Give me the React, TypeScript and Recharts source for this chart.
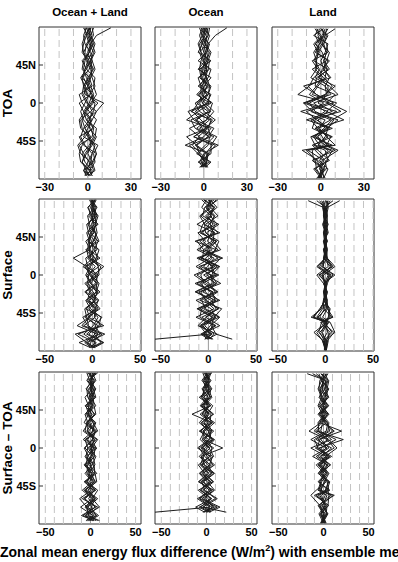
import React from 'react';
import { LineChart, Line, XAxis, YAxis, ReferenceLine, ReferenceArea } from 'recharts';

// latitude grids (deg, north positive)
const LAT_ALL = [89, 80, 70, 60, 50, 40, 30, 20, 10, 0, -10, -20, -30, -40, -50, -60, -70, -80, -86];
const LAT_OCEAN = [89, 80, 70, 60, 50, 40, 30, 20, 10, 0, -10, -20, -30, -40, -50, -60, -70, -76];
const LAT_LAND = [88, 80, 70, 60, 50, 40, 30, 20, 10, 0, -10, -20, -30, -40, -50, -56, -62, -68, -78, -89];

const COL_NAMES = ['Ocean + Land', 'Ocean', 'Land'];
const ROW_NAMES = ['TOA', 'Surface', 'Surface \u2013 TOA'];
const LAT_TICKS = [-45, 0, 45];
const TICKS_TOA = [-30, 0, 30];
const TICKS_SFC = [-50, 0, 50];
const GRID_TOA = [-30, -20, -10, 10, 20, 30];
const GRID_SFC = [-50, -40, -30, -20, -10, 10, 20, 30, 40, 50];

// ensemble members, flux difference from ensemble mean (W/m2)
const toaBoth = [
  [2, 1, 3, 1, -2, -3, -1, 2, 4, 3, -1, -4, -2, 1, 5, 3, 0, -3, -1],
  [-1, -3, -2, 2, 3, 1, -4, -3, 0, 5, 4, 1, -3, -5, -2, 3, 2, -1, 1],
  [3, 4, 0, -3, -1, 2, 3, 5, 1, -2, -5, -3, 2, 4, 1, -4, -2, 3, 2],
  [16, 6, 2, 0, 2, 3, 1, -3, -2, 11, 6, -1, 4, 3, -6, -3, 1, 2, -1],
  [0, 2, 4, 1, -3, -4, 1, 3, -6, -4, 1, 6, 3, -2, -7, -5, 2, 4, 2],
  [-2, -1, 1, 4, 2, -2, -3, 0, 3, 1, -3, -1, 6, 5, 2, -2, -4, -1, -2],
  [1, 3, -1, -2, 3, 5, 2, -2, -1, 7, 2, -5, -4, 0, 4, 6, 3, -2, 1],
  [4, 2, 5, 3, 0, -2, -4, 1, 2, -6, -3, 2, 1, 6, 3, -1, -4, 1, 3],
  [-3, 0, 2, 1, -4, -1, 5, 4, 6, 2, -2, 3, 0, -3, 7, 4, 5, 1, 3],
  [2, -2, -4, -3, 1, 4, 0, -3, -4, -1, 6, 3, -2, 2, -4, -6, -5, 2, -2],
  [-1, 1, 3, 5, 2, -1, -5, -2, 3, 4, -2, -6, -5, 1, 2, 0, 3, 5, 0],
  [1, -1, -3, -4, 0, 3, 2, 0, -3, 0, 3, 1, 4, -6, -3, 6, 4, -3, 1],
];

const toaOcean = [
  [16, 8, 3, 2, 0, 2, 1, -1, 2, -4, -8, -2, 3, 5, -10, -4, 1, 1],
  [1, 0, 3, 1, -2, -3, 2, 4, -3, -1, 5, -9, -6, 4, 3, -4, 2, -2],
  [-2, 2, 1, 3, 2, -1, -2, 5, 3, -6, -3, 6, 2, -7, 8, 3, -1, 0],
  [3, 1, -3, -2, 4, 3, 1, -3, 4, 3, -11, -7, 2, -12, -5, 3, 2, 2],
  [0, 4, 2, -3, -1, 4, -4, -2, -2, 6, 4, -6, 7, 3, -5, -3, 1, -1],
  [-1, -3, -1, 4, 2, -2, 2, -4, 5, 2, -6, 4, -3, 9, 5, 5, -4, 3],
  [2, 3, -2, 0, 3, 1, -1, 3, -4, 1, 7, 2, -10, -3, -8, -2, 4, -3],
  [0, -2, 4, 2, -4, 5, 3, -2, 2, -3, 0, 8, 1, -7, 6, 1, -2, 2],
  [4, 3, 0, 1, 1, -4, 5, 0, -1, 5, -4, -12, 5, 0, -13, 4, 0, -2],
  [-3, -1, -4, -2, 0, 2, -3, 4, 3, -1, 4, 2, -5, 7, 1, -5, 5, 1],
  [1, -1, 1, 5, 3, 0, 2, 1, -5, 4, -9, 5, 3, -4, 10, 0, -3, -1],
  [2, 0, -1, -4, 5, -3, -2, 2, 0, -5, 3, -5, -1, 3, -6, 2, 2, 0],
];

const toaLand = [
  [10, 3, 1, 4, 2, 3, -5, -8, -16, 6, 18, 8, 2, -4, 6, -10, null, -3, 1, 2],
  [-2, -4, -1, -3, 5, 2, 6, 3, 4, -8, -4, 9, 5, 3, -2, 8, null, 4, 2, 0],
  [3, 1, -5, -2, -3, -4, 2, 8, 3, -12, -6, 12, 4, -6, 8, -13, null, -2, 3, -1],
  [0, 5, 2, 4, 2, 6, -3, -4, 10, 4, 14, -7, -2, 5, -5, 3, null, 5, -4, 1],
  [-4, -1, 4, 5, -6, -2, 4, -9, -3, 9, -10, -3, 6, -3, 2, -6, null, -5, 2, -2],
  [5, 2, -1, -5, -3, -3, -7, 3, 7, -12, 5, -4, -6, 7, 4, 12, null, 1, -1, 3],
  [1, 2, -4, 1, 3, 4, 3, -2, -6, 11, 4, 16, -3, 1, 4, -4, null, 3, 4, -3],
  [-3, 0, 1, -4, 6, 1, -1, 5, 5, -2, 8, -10, 8, -7, -4, 7, null, -4, -3, 1],
  [2, -5, 5, 3, 0, 2, 7, -12, -3, 6, -14, 3, -1, 4, 10, -9, null, 2, 0, -1],
  [4, 3, -3, -1, -4, -1, -4, 6, 12, -5, 3, -6, 5, -5, -1, 5, null, -1, 5, 2],
  [-1, -2, 0, 6, 4, -6, 1, -3, -8, 2, -7, 7, -4, 8, -6, -2, null, 6, -5, 0],
  [0, 4, 2, -2, -5, 5, -2, 10, 3, -10, 11, -2, 3, -2, 3, 10, null, -6, 1, -2],
];

const sfcBoth = [
  [2, 0, 4, 3, 5, 1, -3, -20, -6, -3, 4, 5, 2, -6, -3, -16, 5, 2, 1],
  [-1, 4, 2, 5, -2, -4, -5, 3, 6, 7, -6, -3, -5, 4, -8, 6, 2, 9, -1],
  [3, -1, 1, -4, -2, 6, 2, 6, -8, -2, 5, -7, 6, 3, 3, -9, 13, -5, 2],
  [0, 2, -5, -3, 3, 4, -6, -4, 9, 5, -2, 6, 1, 8, -5, 4, -6, 11, 0],
  [-3, 1, 3, -1, 2, -7, -2, 2, -3, 4, -8, 1, 4, -7, 10, 3, 8, -14, -2],
  [1, -4, -2, 6, -5, 3, 5, -7, -5, -1, 7, 4, -6, 2, -4, 12, -18, -6, 3],
  [4, 0, 6, 3, 1, -5, 7, 4, -2, -7, -2, 8, -3, 5, -10, -5, 3, -8, -1],
  [-2, 3, -1, 2, -6, -3, -3, -2, 12, 1, -4, -2, 7, -4, 6, 1, -9, 4, 1],
  [2, -2, 2, -5, 4, 1, -4, 8, -6, 6, 3, -8, 1, 6, -3, -11, 10, -2, -3],
  [-1, 5, -4, 4, -1, -3, 4, -5, 3, -4, -5, 5, -7, -2, 9, 7, -4, 12, 2],
  [3, -5, 0, 1, 3, 7, -7, 1, -10, 3, 6, -3, 3, -8, -6, -4, 6, -6, 0],
  [0, 1, 5, -6, -4, -1, 1, -3, 7, -6, -1, 4, -4, 3, 2, 9, -15, 3, -2],
];

const sfcOcean = [
  [4, -3, 6, 2, 10, -12, -5, -6, 12, 3, 4, -14, 8, -5, 11, -8, 2, -56],
  [-5, 6, 2, 9, -11, -3, -9, 13, 4, 7, -12, 5, -9, 14, 6, 3, 8, 25],
  [8, 1, -9, -4, -3, 11, 7, 2, -13, 3, 9, -6, 12, -11, 4, -9, -2, 3],
  [-2, -7, 3, -12, 6, 5, 13, -10, 5, -15, -2, 10, -4, 6, -13, 7, -5, -2],
  [2, 9, -1, 5, -8, 8, -3, 10, -8, 11, -7, -3, 5, -9, 8, -4, 6, 1],
  [-7, 2, 10, -3, 7, -9, 2, -7, 9, -2, 13, -10, -2, 10, -3, 12, -7, 4],
  [6, -4, -6, 11, -2, 4, -12, 6, -1, -8, -5, 9, -13, 3, 7, -6, 3, -4],
  [0, 5, 2, -5, 12, -14, 8, -3, 3, 5, -9, 2, 10, -7, -9, 5, -3, 2],
  [3, -1, 7, 1, -6, 6, -5, 15, -10, 2, 6, -13, 3, 8, -2, -11, 9, -1],
  [-4, 7, -3, 7, 3, -1, 10, -12, 7, -12, 1, 7, -7, -3, 12, 2, -5, 5],
  [10, -2, 4, -6, -9, 9, -1, 4, -5, 9, -14, 4, 7, -12, 5, -7, 4, -3],
  [1, 3, -8, 2, 5, -6, 4, -8, 11, -5, 8, -8, -3, 11, -7, 8, -8, 0],
];

const sfcLand = [
  [-18, -2, 1, -1, 2, -1, 1, 0, -9, 3, -1, 1, -2, -4, -15, 2, null, -12, -2, 0],
  [15, 2, -1, 1, -2, 1, -1, 2, 6, -4, 1, -1, 1, 3, 4, -3, null, 9, 2, 1],
  [-4, 0, 2, -2, 1, 0, 2, -1, -4, 10, -2, 2, 0, -6, -12, 4, null, -6, -1, 0],
  [3, 1, -2, 2, -1, 2, -2, 1, 8, -7, 2, 0, -1, 2, 8, -5, null, 5, 1, -1],
  [-6, -1, 0, 1, 3, -2, 0, -2, -2, 5, 0, -2, 2, -3, -9, 1, null, -9, -3, 0],
  [2, 3, 1, -3, 0, 1, 1, 2, 10, -2, -1, 1, -2, 5, 3, -2, null, 3, 3, 1],
  [-2, -3, -1, 0, -2, -1, -1, -1, -6, 4, 1, -1, 1, -1, -6, 3, null, -3, 0, -1],
  [5, 1, 2, 2, 1, 0, 2, 1, 3, -9, -2, 2, 0, 4, 5, -1, null, 7, -2, 0],
  [0, -2, -2, -1, -1, 2, -2, 0, -8, 6, 2, -2, -1, -5, -13, 0, null, -4, 1, 1],
  [-9, 0, 1, 0, 2, -2, 1, -2, 5, -3, -1, 0, 2, 2, -3, 5, null, 10, -1, -1],
  [1, 2, -1, 3, -1, 1, 0, 1, -3, 8, 0, 1, -2, -2, 7, -4, null, -7, 2, 0],
  [8, -1, 0, -2, 0, -1, -1, -1, 7, -6, 1, -1, 1, 1, -8, 1, null, 2, -3, 1],
];

const netBoth = [
  [3, 1, 5, 2, 2, -6, -3, -3, 4, 1, 2, -4, -1, -3, 1, -12, -4, -2, 8],
  [-2, 4, 1, 2, -5, -2, -7, 5, 2, 6, -4, 3, 5, 7, -6, 5, 1, 6, -3],
  [6, 0, 2, -6, -2, -2, 3, 8, -6, -3, 5, -6, 2, -4, 8, 2, 10, -6, 2],
  [0, 3, -5, 3, 4, 6, -4, -6, 7, -3, -5, 1, -3, 4, -5, 8, -3, 9, -1],
  [-4, -1, 2, 0, 6, -4, 6, 2, -3, 7, 0, -2, 7, -6, 3, -7, 6, -10, 4],
  [2, 6, -1, 5, -3, 1, -2, -8, 5, -1, 6, 2, -6, 2, -9, 2, -11, 3, 0],
  [8, -3, 4, -2, 1, -5, 4, 3, -8, 4, -3, -5, 4, -1, 5, -6, 2, -5, 6],
  [-1, 2, 0, 4, -4, 5, -5, 6, 2, -6, 3, 5, -2, 6, -3, 6, -5, 7, -2],
  [4, 1, -4, -3, 3, -1, 2, -4, 8, 1, -6, 0, 3, -5, 6, -9, 8, -3, 10],
  [1, -4, 3, 6, -6, 2, -3, 7, -5, 5, 4, -3, -4, 3, -2, 4, -4, 4, -5],
  [-3, 5, -2, -1, 2, -3, 5, -2, 3, -7, -2, 4, 5, -7, 4, -2, 5, -8, 3],
  [5, -1, 6, 1, -1, 4, -1, 4, -4, 3, 1, -7, 1, 5, -7, 3, -6, 2, -4],
];

const netOcean = [
  [2, -3, 4, -8, 5, -16, 6, -4, 7, -5, 3, -6, 8, -4, 6, -10, 4, -57],
  [-3, 4, -2, 5, -6, 3, -5, 8, -3, 18, -6, 4, -7, 5, -3, 12, -4, 22],
  [4, 0, 6, -3, 2, -5, 9, -2, -7, 3, 8, -5, 2, -9, 8, -5, 15, 3],
  [0, 3, -5, 2, -4, 7, -3, 5, 4, -8, -2, 9, -4, 3, -7, 6, -12, -2],
  [-4, -1, 2, 6, -2, -3, 2, -6, 9, 1, -8, 2, 6, -6, 3, -8, 6, 1],
  [5, 2, -3, -4, 7, 1, -8, 3, -2, 6, 4, -9, -2, 8, -4, 4, -6, 4],
  [1, -5, 3, 1, -7, 5, 4, -7, 2, -4, 7, 3, -8, 1, 9, -3, 9, -4],
  [-2, 5, -1, -6, 3, -2, 1, 6, -5, 8, -4, -3, 5, -5, -2, 10, -8, 2],
  [3, -2, 5, 3, -3, 8, -6, 2, 6, -6, 1, 7, -3, 7, -9, 2, 3, -1],
  [-1, 1, -4, -2, 4, -7, 5, -3, -4, 4, -6, -2, 9, -3, 5, -7, 12, 0],
  [6, -4, 0, 4, -5, 2, -2, 4, 3, -10, 5, 5, -5, 4, -6, 5, -3, 5],
  [0, 2, 2, -5, 1, -1, 7, -8, 8, -2, -3, -7, 3, -8, 4, -1, 7, -3],
];

const netLand = [
  [-18, 3, -2, 5, -3, 2, -4, 20, -6, 4, -12, 5, -2, 3, -8, -14, null, -4, 2, -2],
  [4, -3, 5, -2, 6, -4, 3, -8, 22, -5, 6, -3, 4, -5, 5, 6, null, 5, -3, 1],
  [-8, 1, -4, 3, -1, 5, -3, -16, 4, 12, -4, 8, -5, 2, -3, 10, null, -2, 4, -1],
  [2, 5, 2, -5, 3, -2, 6, 5, -10, -6, 9, -6, 3, -6, 7, -6, null, 3, -2, 3],
  [-5, -2, 6, 1, -5, 4, -1, -3, 9, -14, 3, -2, 6, 1, -4, 8, null, -5, 1, -3],
  [5, 0, -3, -4, 2, -6, 2, 10, -3, 6, -8, 4, -3, 5, 3, -10, null, 6, -4, 2],
  [-3, 4, 1, 6, -4, 1, -6, -5, 14, -3, 5, -8, 1, -3, -6, 4, null, -1, 5, -1],
  [0, -4, -5, -1, 5, -3, 4, 7, -8, 9, -2, 2, -6, 6, 2, -4, null, 2, -5, 0],
  [-12, 2, 3, 2, -2, 6, -2, -10, 5, -9, 7, -4, 5, -2, -5, 12, null, -6, 0, 2],
  [3, -1, -1, -3, 4, -5, 5, 3, -14, 3, -6, 7, -1, 4, 6, -8, null, 4, 3, -2],
  [-2, 6, 4, 4, 0, 3, -5, -6, 6, 15, 2, -5, 3, -4, -2, 2, null, -3, -2, 1],
  [1, -2, -6, -2, -6, -1, 1, 12, -4, -7, 4, 1, -4, 7, 4, -2, null, 1, 4, -3],
];

const COL_LEFT = [39, 155, 272];
const ROW_TOP = [27, 199, 372];
const PANEL_W = 102;
const PANEL_H = 152;
const Y_AXIS_W = 39;
const SIDE_PAD = 12;
const TICK_PX = 4;

const ROWS = [
  { domain: [-34, 37], ticks: TICKS_TOA, grid: GRID_TOA, sets: [toaBoth, toaOcean, toaLand] },
  { domain: [-56, 51], ticks: TICKS_SFC, grid: GRID_SFC, sets: [sfcBoth, sfcOcean, sfcLand] },
  { domain: [-57, 56], ticks: TICKS_SFC, grid: GRID_SFC, sets: [netBoth, netOcean, netLand] },
];
const LAT_SETS = [LAT_ALL, LAT_OCEAN, LAT_LAND];

const tickStyle = { fontSize: 11, fontWeight: 700, fill: '#000' };
const fmtX = (v: number) => (v < 0 ? `\u2212${-v}` : `${v}`);
const fmtLat = (v: number) => (v === 0 ? '0' : v > 0 ? `${v}N` : `${-v}S`);

interface PanelProps {
  left: number;
  top: number;
  lats: number[];
  members: (number | null)[][];
  domain: number[];
  ticks: number[];
  grid: number[];
  showY: boolean;
}

function Panel({ left, top, lats, members, domain, ticks, grid, showY }: PanelProps) {
  const data = lats.map((lat, i) => {
    const row: Record<string, number | null> = { lat };
    members.forEach((m, j) => {
      row[`m${j}`] = m[i];
    });
    return row;
  });
  const padL = showY ? Y_AXIS_W : SIDE_PAD;
  // inward tick length expressed in data units
  const tickLen = (TICK_PX * (domain[1] - domain[0])) / PANEL_W;

  return (
    <div style={{ position: 'absolute', left: left - padL, top: top - 1 }}>
      <LineChart
        layout="vertical"
        width={padL + PANEL_W + SIDE_PAD}
        height={PANEL_H + 1 + 22}
        data={data}
        margin={{ top: 1, right: SIDE_PAD, bottom: 0, left: showY ? 0 : SIDE_PAD }}
      >
        <XAxis
          type="number"
          domain={domain}
          ticks={ticks}
          interval={0}
          allowDataOverflow
          tickFormatter={fmtX}
          tick={tickStyle}
          tickLine={false}
          axisLine={false}
          tickSize={0}
          tickMargin={4}
          height={22}
        />
        <YAxis
          type="number"
          dataKey="lat"
          domain={[-90, 90]}
          ticks={LAT_TICKS}
          interval={0}
          reversed
          allowDataOverflow
          hide={!showY}
          width={Y_AXIS_W}
          tickFormatter={fmtLat}
          tick={tickStyle}
          tickLine={false}
          axisLine={false}
          tickSize={0}
          tickMargin={3}
        />
        {grid.map((v) => (
          <ReferenceLine key={v} x={v} stroke="#c4c4c4" strokeDasharray="7 4" />
        ))}
        <ReferenceLine x={0} stroke="#9a9a9a" />
        {members.map((_, j) => (
          <Line
            key={j}
            type="linear"
            dataKey={`m${j}`}
            stroke="#1c1c1c"
            strokeWidth={1}
            dot={false}
            connectNulls={false}
            isAnimationActive={false}
          />
        ))}
        {LAT_TICKS.map((lat) => (
          <ReferenceLine
            key={`t${lat}`}
            segment={[
              { x: domain[0], y: lat },
              { x: domain[0] + tickLen, y: lat },
            ]}
            stroke="#333"
          />
        ))}
        <ReferenceArea
          x1={domain[0]}
          x2={domain[1]}
          y1={-90}
          y2={90}
          fill="none"
          fillOpacity={0}
          stroke="#333"
          strokeWidth={1}
        />
      </LineChart>
    </div>
  );
}

export default function App() {
  return (
    <div
      style={{
        position: 'absolute',
        left: 0,
        top: 0,
        width: 398,
        height: 562,
        overflow: 'hidden',
        background: '#fff',
        fontFamily: '"Liberation Sans", Arial, sans-serif',
      }}
    >
      {COL_NAMES.map((name, c) => (
        <div
          key={name}
          style={{
            position: 'absolute',
            left: COL_LEFT[c],
            top: 5,
            width: PANEL_W,
            textAlign: 'center',
            fontSize: 11.5,
            fontWeight: 700,
            lineHeight: '14px',
          }}
        >
          {name}
        </div>
      ))}

      {ROW_NAMES.map((name, r) => (
        <div
          key={name}
          style={{
            position: 'absolute',
            left: 8 - 100,
            top: ROW_TOP[r] + PANEL_H / 2 - 8,
            width: 200,
            height: 16,
            lineHeight: '16px',
            textAlign: 'center',
            fontSize: 13.5,
            fontWeight: 700,
            transform: 'rotate(-90deg)',
          }}
        >
          {name}
        </div>
      ))}

      {ROWS.map((row, r) =>
        row.sets.map((members, c) => (
          <Panel
            key={`${r}-${c}`}
            left={COL_LEFT[c]}
            top={ROW_TOP[r]}
            lats={LAT_SETS[c]}
            members={members}
            domain={row.domain}
            ticks={row.ticks}
            grid={row.grid}
            showY={c === 0}
          />
        ))
      )}

      <div
        style={{
          position: 'absolute',
          left: 0,
          top: 543,
          whiteSpace: 'nowrap',
          fontSize: 14,
          fontWeight: 700,
          lineHeight: '18px',
        }}
      >
        Zonal mean energy flux difference (W/m<sup style={{ fontSize: 9, lineHeight: 0 }}>2</sup>) with ensemble mean
      </div>
    </div>
  );
}
